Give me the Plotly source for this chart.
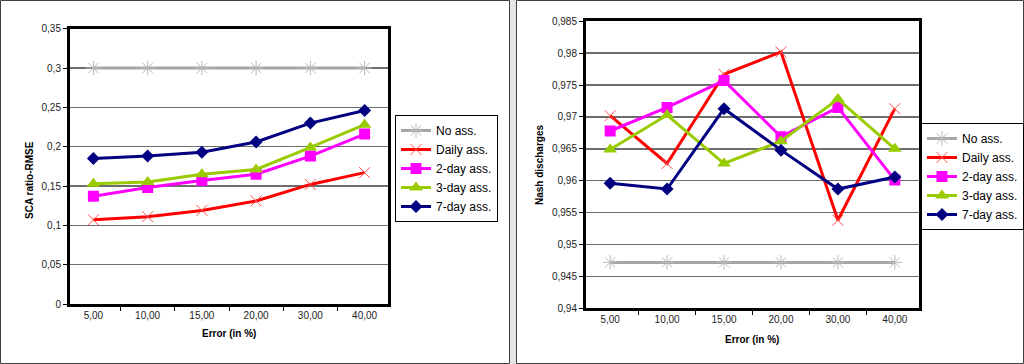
import plotly.graph_objects as go

W, H = 1024, 364

x_labels = ["5,00", "10,00", "15,00", "20,00", "30,00", "40,00"]
series_names = ["No ass.", "Daily ass.", "2-day ass.", "3-day ass.", "7-day ass."]

# Left panel: SCA ratio-RMSE
sca_no_ass = [0.30, 0.30, 0.30, 0.30, 0.30, 0.30]
sca_daily = [0.107, 0.111, 0.119, 0.131, 0.152, 0.167]
sca_2day = [0.137, 0.148, 0.157, 0.165, 0.188, 0.216]
sca_3day = [0.153, 0.155, 0.165, 0.171, 0.199, 0.228]
sca_7day = [0.185, 0.188, 0.193, 0.206, 0.230, 0.246]

# Right panel: Nash discharges
nash_no_ass = [0.9472, 0.9472, 0.9472, 0.9472, 0.9472, 0.9472]
nash_daily = [0.9702, 0.9627, 0.9767, 0.9802, 0.9538, 0.9713]
nash_2day = [0.9678, 0.9715, 0.9757, 0.9669, 0.9715, 0.9601]
nash_3day = [0.9649, 0.9703, 0.9627, 0.9662, 0.9728, 0.9650]
nash_7day = [0.9596, 0.9587, 0.9713, 0.9648, 0.9587, 0.9606]

styles = [
    dict(line=dict(color="#A6A6A6", width=3), marker=dict(symbol="asterisk-open", size=12, color="#B8B8B8", line=dict(width=1, color="#B8B8B8"))),
    dict(line=dict(color="#FF0000", width=3), marker=dict(symbol="x-thin-open", size=11, color="#FF5050", line=dict(width=1, color="#FF5050"))),
    dict(line=dict(color="#FF00FF", width=3), marker=dict(symbol="square", size=11, color="#FF00FF")),
    dict(line=dict(color="#99CC00", width=3), marker=dict(symbol="triangle-up", size=12, color="#99CC00")),
    dict(line=dict(color="#000080", width=3), marker=dict(symbol="diamond", size=10, color="#000080")),
]

left_data = [sca_no_ass, sca_daily, sca_2day, sca_3day, sca_7day]
right_data = [nash_no_ass, nash_daily, nash_2day, nash_3day, nash_7day]

fig = go.Figure()
for name, vals, st in zip(series_names, left_data, styles):
    fig.add_trace(go.Scatter(x=x_labels, y=vals, name=name, mode="lines+markers",
                             xaxis="x", yaxis="y", legend="legend", **st))
for name, vals, st in zip(series_names, right_data, styles):
    fig.add_trace(go.Scatter(x=x_labels, y=vals, name=name, mode="lines+markers",
                             xaxis="x2", yaxis="y2", legend="legend2", **st))

def px_x(p):
    return p / W

def px_y(p):
    return 1 - p / H

FONT = "Liberation Sans, Arial, sans-serif"

axis_common = dict(showline=True, mirror=True, linewidth=3, linecolor="black",
                   ticks="outside", ticklen=4, tickcolor="black", tickwidth=1, automargin=False,
                   tickfont=dict(family=FONT, size=10, color="#222222"), zeroline=False)

fig.update_layout(
    template="none",
    width=W, height=H, margin=dict(l=0, r=0, t=0, b=0, pad=0, autoexpand=False),
    paper_bgcolor="white", plot_bgcolor="white",
    separators=", ",
    font=dict(family=FONT, size=10, color="black"),
    xaxis=dict(domain=[px_x(70), px_x(388)], anchor="y", type="category",
               tickson="boundaries", showgrid=False, **axis_common),
    yaxis=dict(domain=[px_y(304), px_y(28.7)], anchor="x", range=[0, 0.35], dtick=0.05,
               showgrid=True, gridcolor="#6E6E6E", gridwidth=1.5, **axis_common),
    xaxis2=dict(domain=[px_x(586), px_x(919)], anchor="y2", type="category",
                tickson="boundaries", showgrid=False, **axis_common),
    yaxis2=dict(domain=[px_y(308.3), px_y(21.3)], anchor="x2", range=[0.94, 0.985], dtick=0.005,
                showgrid=True, gridcolor="#6E6E6E", gridwidth=1.5, **axis_common),
    legend=dict(x=px_x(395), y=px_y(115), xanchor="left", yanchor="top",
                bordercolor="black", borderwidth=1, bgcolor="white",
                font=dict(family=FONT, size=12), tracegroupgap=0, itemwidth=30),
    legend2=dict(x=px_x(921), y=px_y(123), xanchor="left", yanchor="top",
                 bordercolor="black", borderwidth=1, bgcolor="white",
                 font=dict(family=FONT, size=12), tracegroupgap=0, itemwidth=30),
    showlegend=True,
)

shapes = [
    dict(type="rect", xref="paper", yref="paper", x0=px_x(509.5), x1=px_x(516.5), y0=0, y1=1,
         fillcolor="#E4E4E4", line=dict(width=0), layer="below"),
    dict(type="rect", xref="paper", yref="paper", x0=px_x(0.5), x1=px_x(509.5), y0=px_y(363.5), y1=px_y(0.5),
         line=dict(color="#404040", width=1), layer="below"),
    dict(type="rect", xref="paper", yref="paper", x0=px_x(516.5), x1=px_x(1023.5), y0=px_y(363.5), y1=px_y(0.5),
         line=dict(color="#404040", width=1), layer="below"),
]
fig.update_layout(shapes=shapes)

annos = [
    dict(text="<b>SCA ratio-RMSE</b>", x=px_x(29), y=px_y(180), textangle=-90),
    dict(text="<b>Error (in %)</b>", x=px_x(229), y=px_y(333)),
    dict(text="<b>Nash discharges</b>", x=px_x(540), y=px_y(165), textangle=-90),
    dict(text="<b>Error (in %)</b>", x=px_x(752), y=px_y(339)),
]
for a in annos:
    a.update(xref="paper", yref="paper", showarrow=False, xanchor="center", yanchor="middle",
             font=dict(family=FONT, size=10, color="black"))
fig.update_layout(annotations=annos)

fig.write_html(
    "out.html",
    config={"displayModeBar": False, "staticPlot": True},
    post_script=(
        "document.documentElement.style.margin='0';document.body.style.margin='0';"
        "document.body.style.padding='0';document.body.style.overflow='hidden';"
        "var g=document.getElementById('{plot_id}');"
        "g.style.position='fixed';g.style.top='0px';g.style.left='0px';"
    ),
)
